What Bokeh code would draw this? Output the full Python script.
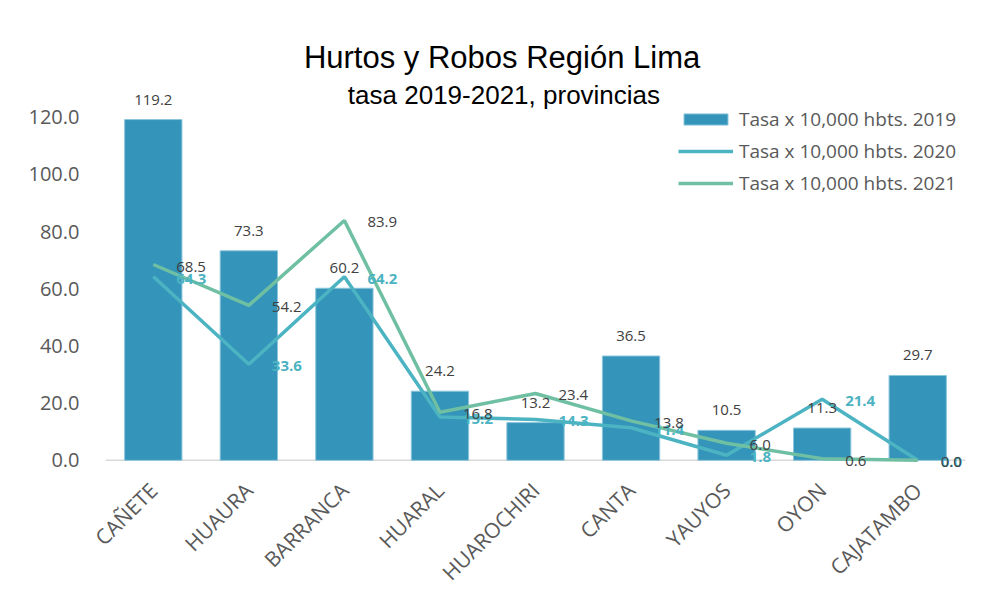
import math
from bokeh.plotting import figure
from bokeh.models import (ColumnDataSource, FixedTicker, Legend, LegendItem,
                          Range1d, NumeralTickFormatter, Label, Span)
from bokeh.core.properties import value
from bokeh.embed import file_html
from bokeh.resources import INLINE

# ---- data ----
provinces = ["CAÑETE", "HUAURA", "BARRANCA", "HUARAL", "HUAROCHIRI",
             "CANTA", "YAUYOS", "OYON", "CAJATAMBO"]
tasa_2019 = [119.2, 73.3, 60.2, 24.2, 13.2, 36.5, 10.5, 11.3, 29.7]
tasa_2020 = [64.3, 33.6, 64.2, 15.2, 14.3, 11.4, 1.8, 21.4, 0.0]
tasa_2021 = [68.5, 54.2, 83.9, 16.8, 23.4, 13.8, 6.0, 0.6, 0.0]
y_ticks = [0, 20, 40, 60, 80, 100, 120]
series_names = ["Tasa x 10,000 hbts. 2019", "Tasa x 10,000 hbts. 2020",
                "Tasa x 10,000 hbts. 2021"]
title_text = "Hurtos y Robos Región Lima"
subtitle_text = "tasa 2019-2021, provincias"

C19 = "#3494ba"
C20 = "#4bb3c1"
C21 = "#6fbfa2"
LABEL_FONT = "Open Sans"
TITLE_FONT = "Liberation Sans"

xs = [i + 0.5 for i in range(len(provinces))]
src = ColumnDataSource(dict(
    x=xs, prov=provinces,
    v19=tasa_2019, v20=tasa_2020, v21=tasa_2021,
))

p = figure(width=974, height=599, output_backend="svg", toolbar_location=None,
           x_range=Range1d(0, len(provinces)), y_range=Range1d(-6, 150),
           min_border_left=105, min_border_right=9, min_border_top=31,
           min_border_bottom=122)
p.outline_line_color = None
p.xgrid.visible = False
p.ygrid.visible = False
p.background_fill_color = "white"
p.border_fill_color = "white"

# baseline (category axis line at zero)
p.add_layout(Span(location=0, dimension="width", line_color="#d9d9d9",
                  line_width=1.5, level="underlay"))

bars = p.vbar(x="x", top="v19", bottom=0, width=0.6, source=src,
              fill_color=C19, line_color="#8cc6dd", line_width=1)
l20 = p.line(x="x", y="v20", source=src, line_color=C20, line_width=3.5)
l21 = p.line(x="x", y="v21", source=src, line_color=C21, line_width=3.5)

# data labels
for x, v in zip(xs, tasa_2019):
    p.add_layout(Label(x=x, y=v, text="%.1f" % v, text_align="center",
                       text_baseline="middle", y_offset=20,
                       text_font=LABEL_FONT, text_font_size="15px",
                       text_color="#404040"))
for x, v in zip(xs, tasa_2020):
    p.add_layout(Label(x=x, y=v, text="%.1f" % v, text_align="left",
                       text_baseline="middle", x_offset=23, y_offset=-2,
                       text_font=LABEL_FONT, text_font_size="15px",
                       text_font_style="bold", text_color=C20))
for x, v in zip(xs, tasa_2021):
    p.add_layout(Label(x=x, y=v, text="%.1f" % v, text_align="left",
                       text_baseline="middle", x_offset=23, y_offset=-2,
                       text_font=LABEL_FONT, text_font_size="15px",
                       text_color="#404040"))

# titles
p.text(x=[4.15], y=[141.0], text=[title_text], text_align="center",
       text_baseline="middle", text_font=value(TITLE_FONT),
       text_font_size="31px", text_color="#000000")
p.text(x=[4.17], y=[127.7], text=[subtitle_text], text_align="center",
       text_baseline="middle", text_font=value(TITLE_FONT),
       text_font_size="26px", text_color="#000000")

# axes
p.xaxis.ticker = FixedTicker(ticks=xs)
p.xaxis.major_label_overrides = {x: n for x, n in zip(xs, provinces)}
p.xaxis.major_label_orientation = math.pi / 4
p.xaxis.major_label_text_font = LABEL_FONT
p.xaxis.major_label_text_font_size = "21px"
p.xaxis.major_label_text_color = "#595959"
p.xaxis.major_tick_line_color = None
p.xaxis.minor_tick_line_color = None
p.xaxis.axis_line_color = None
p.xaxis.major_label_standoff = 3

p.yaxis.ticker = FixedTicker(ticks=y_ticks)
p.yaxis.formatter = NumeralTickFormatter(format="0.0")
p.yaxis.major_label_text_font = LABEL_FONT
p.yaxis.major_label_text_font_size = "20px"
p.yaxis.major_label_text_color = "#595959"
p.yaxis.major_tick_line_color = None
p.yaxis.minor_tick_line_color = None
p.yaxis.axis_line_color = None
p.yaxis.major_label_standoff = 20

legend = Legend(items=[
    LegendItem(label=series_names[0], renderers=[bars]),
    LegendItem(label=series_names[1], renderers=[l20]),
    LegendItem(label=series_names[2], renderers=[l21]),
], location=(573, 281))
legend.padding = 0
legend.margin = 0
legend.spacing = 6
legend.glyph_width = 55
legend.glyph_height = 14
legend.label_height = 20
legend.label_standoff = 6
legend.label_text_font = LABEL_FONT
legend.label_text_font_size = "19px"
legend.label_text_color = "#595959"
legend.border_line_color = None
legend.background_fill_alpha = 0
p.add_layout(legend)

open("out.html", "w").write(file_html(p, INLINE))
